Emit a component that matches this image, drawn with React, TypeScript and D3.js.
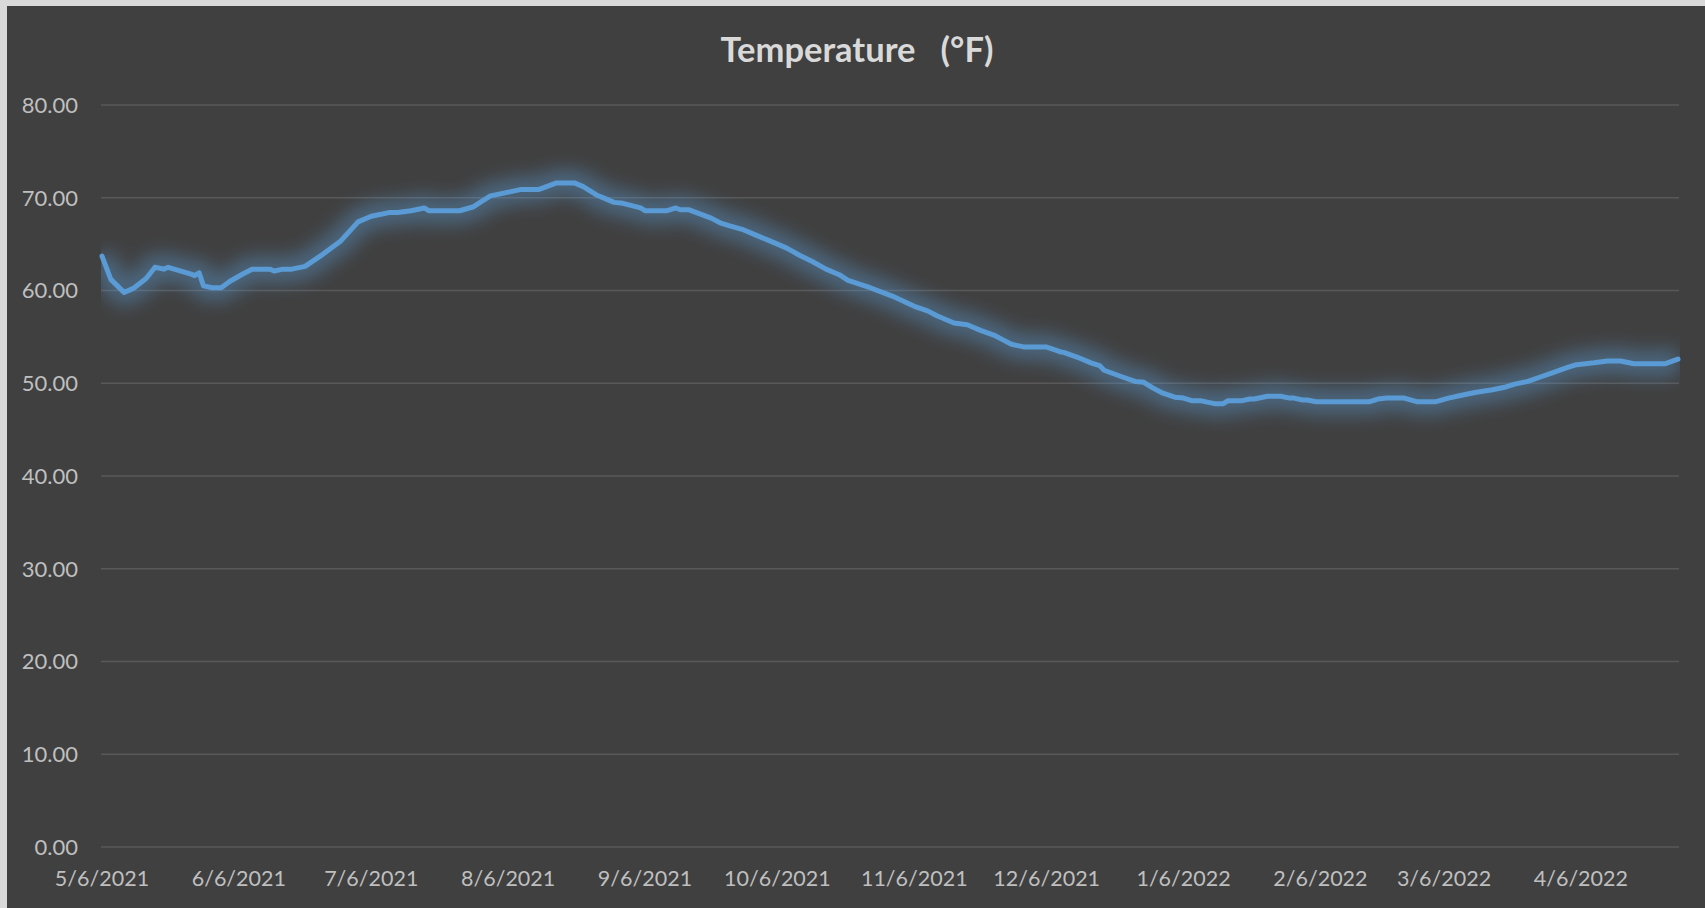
import React from 'react';
import * as d3 from 'd3';

const dates = [
  '2021-05-06', '2021-05-08', '2021-05-11', '2021-05-13', '2021-05-16', '2021-05-18', '2021-05-20', '2021-05-21',
  '2021-05-26', '2021-05-27', '2021-05-28', '2021-05-29', '2021-05-31', '2021-06-02', '2021-06-04', '2021-06-07',
  '2021-06-09', '2021-06-13', '2021-06-14', '2021-06-16', '2021-06-18', '2021-06-21', '2021-06-25', '2021-06-29',
  '2021-07-03', '2021-07-06', '2021-07-10', '2021-07-12', '2021-07-15', '2021-07-18', '2021-07-19', '2021-07-26',
  '2021-07-29', '2021-07-31', '2021-08-02', '2021-08-05', '2021-08-09', '2021-08-13', '2021-08-17', '2021-08-21',
  '2021-08-23', '2021-08-26', '2021-08-28', '2021-08-30', '2021-09-01', '2021-09-05', '2021-09-06', '2021-09-11',
  '2021-09-13', '2021-09-14', '2021-09-16', '2021-09-21', '2021-09-23', '2021-09-25', '2021-09-28', '2021-10-01',
  '2021-10-04', '2021-10-08', '2021-10-11', '2021-10-14', '2021-10-17', '2021-10-20', '2021-10-22', '2021-10-27',
  '2021-11-01', '2021-11-06', '2021-11-09', '2021-11-11', '2021-11-15', '2021-11-18', '2021-11-21', '2021-11-24',
  '2021-11-26', '2021-11-28', '2021-12-01', '2021-12-06', '2021-12-09', '2021-12-10', '2021-12-13', '2021-12-16',
  '2021-12-18', '2021-12-19', '2021-12-23', '2021-12-26', '2021-12-28', '2021-12-30', '2022-01-01', '2022-01-04',
  '2022-01-06', '2022-01-08', '2022-01-10', '2022-01-13', '2022-01-15', '2022-01-16', '2022-01-19', '2022-01-21',
  '2022-01-22', '2022-01-25', '2022-01-28', '2022-01-30', '2022-01-31', '2022-02-02', '2022-02-03', '2022-02-05',
  '2022-02-17', '2022-02-19', '2022-02-21', '2022-02-25', '2022-02-28', '2022-03-04', '2022-03-07', '2022-03-10',
  '2022-03-13', '2022-03-17', '2022-03-20', '2022-03-22', '2022-03-25', '2022-03-28', '2022-03-31', '2022-04-03',
  '2022-04-05', '2022-04-07', '2022-04-09', '2022-04-12', '2022-04-15', '2022-04-18', '2022-04-25', '2022-04-28',
];

const temps = [
  63.7, 61.2, 59.8, 60.2, 61.3, 62.5, 62.3, 62.5,
  61.8, 61.6, 61.9, 60.5, 60.3, 60.3, 61.0, 61.8,
  62.3, 62.3, 62.1, 62.3, 62.3, 62.6, 63.9, 65.3,
  67.4, 68.0, 68.4, 68.4, 68.6, 68.9, 68.6, 68.6,
  69.0, 69.6, 70.2, 70.5, 70.9, 70.9, 71.6, 71.6,
  71.2, 70.3, 69.9, 69.5, 69.4, 68.9, 68.6, 68.6,
  68.9, 68.7, 68.7, 67.8, 67.3, 67.0, 66.6, 66.0,
  65.4, 64.6, 63.8, 63.1, 62.3, 61.7, 61.1, 60.3,
  59.4, 58.3, 57.8, 57.3, 56.5, 56.3, 55.7, 55.2,
  54.7, 54.2, 53.9, 53.9, 53.4, 53.3, 52.8, 52.2,
  51.9, 51.4, 50.7, 50.2, 50.1, 49.5, 49.0, 48.5,
  48.4, 48.1, 48.1, 47.8, 47.8, 48.1, 48.1, 48.3,
  48.3, 48.6, 48.6, 48.4, 48.4, 48.2, 48.2, 48.0,
  48.0, 48.3, 48.4, 48.4, 48.0, 48.0, 48.4, 48.7,
  49.0, 49.3, 49.6, 49.9, 50.2, 50.7, 51.2, 51.7,
  52.0, 52.1, 52.2, 52.4, 52.4, 52.1, 52.1, 52.6,
];

const xTickDates = [
  '2021-05-06', '2021-06-06', '2021-07-06', '2021-08-06', '2021-09-06', '2021-10-06',
  '2021-11-06', '2021-12-06', '2022-01-06', '2022-02-06', '2022-03-06', '2022-04-06',
];

const yTicks = [0, 10, 20, 30, 40, 50, 60, 70, 80];

const W = 1705;
const H = 908;
const margin = { top: 105, right: 26, bottom: 61, left: 102 };
const FONT = 'Lato, "Open Sans", sans-serif';

export default function App() {
  const parse = d3.timeParse('%Y-%m-%d');
  const data = dates.map((d, i) => ({ date: parse(d) as Date, value: temps[i] }));

  const x = d3
    .scaleTime()
    .domain(d3.extent(data, d => d.date) as [Date, Date])
    .range([margin.left, W - margin.right - 1]);

  const y = d3
    .scaleLinear()
    .domain([0, 80])
    .range([H - margin.bottom, margin.top]);

  const line = d3
    .line<{ date: Date; value: number }>()
    .x(d => x(d.date))
    .y(d => y(d.value));

  const path = line(data) ?? '';
  const fmtY = d3.format('.2f');
  const fmtX = d3.timeFormat('%-m/%-d/%Y');

  return (
    <div style={{ position: 'absolute', left: 0, top: 0 }}>
      <svg width={W} height={H} style={{ display: 'block' }}>
        <defs>
          <filter id="glow" x="-10%" y="-50%" width="120%" height="200%">
            <feGaussianBlur stdDeviation="9" />
          </filter>
          <clipPath id="plotClip">
            <rect x={margin.left - 1} y={0} width={W - margin.right - margin.left + 2} height={H} />
          </clipPath>
        </defs>

        <rect x={0} y={0} width={W} height={H} fill="#d9d9d9" />
        <rect x={7} y={6} width={W - 7} height={H - 6} fill="#404040" />

        <text
          x={857}
          y={62}
          textAnchor="middle"
          fill="#d9d9d9"
          fontFamily={FONT}
          fontWeight="bold"
          fontSize={34.5}
        >
          {'Temperature\u00A0\u00A0\u00A0(°F)'}
        </text>

        {yTicks.map(t => (
          <g key={t}>
            <line
              x1={margin.left - 1}
              x2={W - margin.right}
              y1={y(t)}
              y2={y(t)}
              stroke="#595959"
              strokeWidth={1.3}
            />
            <text
              x={78}
              y={y(t)}
              dy="0.36em"
              textAnchor="end"
              fill="#bfbfbf"
              fontFamily={FONT}
              fontSize={22}
            >
              {fmtY(t)}
            </text>
          </g>
        ))}

        {xTickDates.map(s => {
          const d = parse(s) as Date;
          return (
            <text
              key={s}
              x={x(d)}
              y={886}
              textAnchor="middle"
              fill="#bfbfbf"
              fontFamily={FONT}
              fontSize={21.5}
            >
              {fmtX(d)}
            </text>
          );
        })}

        <g clipPath="url(#plotClip)">
          <path
            d={path}
            fill="none"
            stroke="#5b9bd5"
            strokeOpacity={0.42}
            strokeWidth={26}
            strokeLinejoin="round"
            filter="url(#glow)"
          />
        </g>
        <path
          d={path}
          fill="none"
          stroke="#5b9bd5"
          strokeWidth={5}
          strokeLinejoin="round"
          strokeLinecap="round"
        />
      </svg>
    </div>
  );
}
